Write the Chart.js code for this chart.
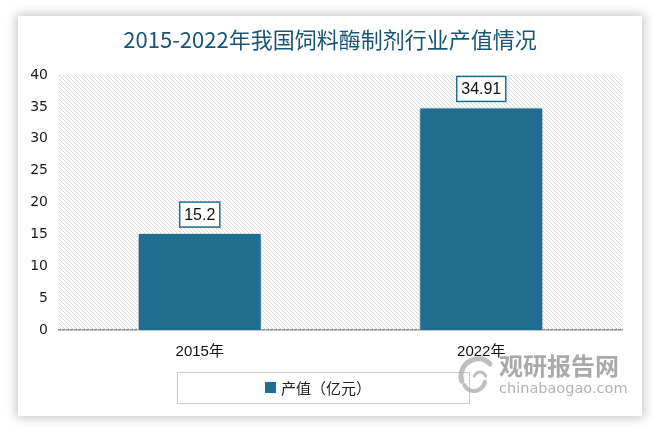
<!DOCTYPE html>
<html>
<head>
<meta charset="utf-8">
<script src="https://cdn.jsdelivr.net/npm/chart.js@4.4.1/dist/chart.umd.min.js"></script>
<style>
  html, body { margin: 0; padding: 0; background: #fff; }
  #wrap { position: relative; width: 659px; height: 432px; }
  #card {
    position: absolute; left: 18px; top: 16px; width: 624px; height: 400px;
    background: #fff; box-shadow: 0 0 10px 2px rgba(0, 0, 0, 0.22);
  }
  #chart { position: absolute; left: 0; top: 0; }
</style>
</head>
<body>
<div id="wrap">
  <div id="card"></div>
  <canvas id="chart" width="659" height="432"></canvas>
</div>
<script>
const titleText = '2015-2022年我国饲料酶制剂行业产值情况';
const years = ['2015年', '2022年'];
const outputValues = [15.2, 34.91];
const seriesName = '产值（亿元）';
const yTicks = [0, 5, 10, 15, 20, 25, 30, 35, 40];

const barColor = '#1F6D8F';

// diagonal hatch for the plot background
function makeHatch() {
  const c = document.createElement('canvas');
  c.width = 4;
  c.height = 4;
  const g = c.getContext('2d');
  g.strokeStyle = '#dadada';
  g.lineWidth = 1;
  g.beginPath();
  g.moveTo(-1, -1); g.lineTo(5, 5);
  g.moveTo(-1, 3); g.lineTo(1, 5);
  g.moveTo(3, -1); g.lineTo(5, 1);
  g.stroke();
  return g.createPattern(c, 'repeat');
}

const backgroundPlugin = {
  id: 'plotBackground',
  beforeDatasetsDraw(chart) {
    const { ctx, chartArea: a } = chart;
    ctx.save();
    ctx.fillStyle = makeHatch();
    ctx.fillRect(a.left, a.top, a.right - a.left, a.bottom - a.top);
    ctx.restore();
    // shadow for bars
    ctx.save();
    ctx.shadowColor = 'rgba(0, 0, 0, 0.4)';
    ctx.shadowBlur = 6;
    ctx.shadowOffsetX = 0;
    ctx.shadowOffsetY = 1;
  },
  afterDatasetsDraw(chart) {
    chart.ctx.restore();
  }
};

const labelPlugin = {
  id: 'boxLabels',
  afterDatasetsDraw(chart) {
    const { ctx } = chart;
    const meta = chart.getDatasetMeta(0);
    ctx.save();
    ctx.font = '16px "Liberation Sans", Arial, sans-serif';
    ctx.textAlign = 'center';
    ctx.textBaseline = 'middle';
    meta.data.forEach((bar, i) => {
      const text = String(chart.data.datasets[0].data[i]);
      const w = ctx.measureText(text).width + 9;
      const h = 25;
      const x = bar.x - w / 2;
      const y = bar.y - 6 - h;
      ctx.fillStyle = '#fff';
      ctx.fillRect(x, y, w, h);
      ctx.strokeStyle = barColor;
      ctx.lineWidth = 1.5;
      ctx.strokeRect(x, y, w, h);
      ctx.fillStyle = '#111';
      ctx.fillText(text, bar.x, y + h / 2 + 1);
    });
    ctx.restore();
  }
};

const decorPlugin = {
  id: 'decor',
  afterDraw(chart) {
    const { ctx } = chart;
    ctx.save();
    // title
    ctx.fillStyle = '#1A5574';
    ctx.font = '22px "Noto Sans CJK SC", sans-serif';
    ctx.textAlign = 'center';
    ctx.textBaseline = 'middle';
    ctx.fillText(titleText, 330, 40);

    // legend box
    ctx.strokeStyle = '#cccccc';
    ctx.lineWidth = 1;
    ctx.strokeRect(177.5, 372.5, 292, 31);
    ctx.fillStyle = barColor;
    ctx.fillRect(265, 382, 11, 11);
    ctx.fillStyle = '#222';
    ctx.font = '15px "Noto Sans CJK SC", sans-serif';
    ctx.textAlign = 'left';
    ctx.fillText(chart.data.datasets[0].label, 281, 388);

    // watermark
    ctx.globalAlpha = 0.75;
    ctx.strokeStyle = '#a8a8a8';
    ctx.lineCap = 'round';
    ctx.lineWidth = 5;
    ctx.beginPath();
    ctx.arc(478, 376, 17, Math.PI * 0.9, Math.PI * 1.75);
    ctx.stroke();
    ctx.lineWidth = 4;
    ctx.beginPath();
    ctx.arc(474, 380, 11, Math.PI * 0.05, Math.PI * 0.85);
    ctx.stroke();
    ctx.lineWidth = 3;
    ctx.beginPath();
    ctx.arc(480, 378, 6, Math.PI * 1.1, Math.PI * 1.9);
    ctx.stroke();
    ctx.fillStyle = '#8c8c8c';
    ctx.font = 'bold 24px "Noto Sans CJK SC", sans-serif';
    ctx.textAlign = 'left';
    ctx.fillText('观研报告网', 499, 366);
    ctx.fillStyle = '#9a9a9a';
    ctx.font = '14.5px "DejaVu Sans", sans-serif';
    ctx.fillText('chinabaogao.com', 499, 389);
    ctx.restore();
  }
};

new Chart(document.getElementById('chart'), {
  type: 'bar',
  data: {
    labels: years,
    datasets: [{
      label: seriesName,
      data: outputValues,
      backgroundColor: barColor,
      borderColor: '#ffffff',
      borderWidth: 1,
      barPercentage: 0.44,
      categoryPercentage: 1
    }]
  },
  options: {
    responsive: false,
    animation: false,
    layout: { padding: { top: 75, right: 37, bottom: 0, left: 0 } },
    plugins: {
      legend: { display: false },
      title: { display: false },
      tooltip: { enabled: false }
    },
    scales: {
      x: {
        grid: { display: false, drawTicks: false },
        border: { display: true, color: '#888888', width: 1.5 },
        ticks: {
          padding: 13,
          color: '#111',
          font: { size: 15, family: '"Liberation Sans", "Noto Sans CJK SC", sans-serif' }
        },
        afterFit(scale) { scale.height = 102; }
      },
      y: {
        min: 0,
        max: 40,
        afterBuildTicks(scale) { scale.ticks = yTicks.map(v => ({ value: v })); },
        grid: { display: false, drawTicks: false },
        border: { display: false },
        ticks: {
          padding: 11,
          color: '#1a1a1a',
          font: { size: 14, family: '"DejaVu Sans", sans-serif' }
        },
        afterFit(scale) { scale.width = 59; }
      }
    }
  },
  plugins: [backgroundPlugin, labelPlugin, decorPlugin]
});
</script>
</body>
</html>
